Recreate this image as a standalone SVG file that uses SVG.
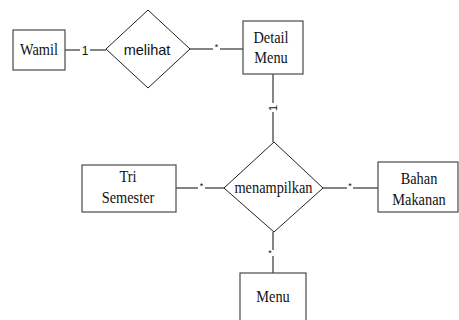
<svg xmlns="http://www.w3.org/2000/svg" width="459" height="320" viewBox="0 0 459 320">
  <style>
    .box { fill: #fff; stroke: #4a4a4a; stroke-width: 1.2; }
    .rel { fill: #fff; stroke: #222; stroke-width: 1; }
    .link { stroke: #333; stroke-width: 1.2; fill: none; }
    .lbl { fill: #111; text-anchor: middle; }
    .card { font-size: 9px; fill: #111; text-anchor: middle; }
  </style>
  <rect width="459" height="320" fill="#fff"/>

  <!-- connectors with cardinality labels -->
  <g id="connectors">
    <line class="link" x1="65" y1="50" x2="80" y2="50"/>
    <line class="link" x1="90" y1="50" x2="106" y2="50"/>
    <text class="lbl" font-family="Liberation Sans, sans-serif" x="85" y="54.5" font-size="12">1</text>

    <line class="link" x1="190" y1="49" x2="213" y2="49"/>
    <line class="link" x1="220" y1="49" x2="243" y2="49"/>
    <text class="card" font-family="Liberation Sans, sans-serif" x="216.5" y="50">*</text>

    <line class="link" x1="273" y1="74" x2="273" y2="103"/>
    <line class="link" x1="273" y1="112" x2="273" y2="142"/>
    <text class="lbl" font-family="Liberation Sans, sans-serif" font-size="11" transform="translate(277,108) rotate(-90)">1</text>

    <line class="link" x1="176" y1="188" x2="198" y2="188"/>
    <line class="link" x1="205" y1="188" x2="224" y2="188"/>
    <text class="card" font-family="Liberation Sans, sans-serif" x="201.5" y="189">*</text>

    <line class="link" x1="323" y1="188" x2="347" y2="188"/>
    <line class="link" x1="353" y1="188" x2="378" y2="188"/>
    <text class="card" font-family="Liberation Sans, sans-serif" x="350" y="189">*</text>

    <line class="link" x1="273" y1="232" x2="273" y2="250"/>
    <line class="link" x1="273" y1="256" x2="273" y2="273"/>
    <text class="card" font-family="Liberation Sans, sans-serif" x="270" y="256">*</text>
  </g>

  <g id="wamil">
    <rect class="box" x="13" y="30" width="52" height="40"/>
    <text class="lbl" font-family="Liberation Serif, serif" font-size="16.5" transform="translate(39,55) scale(0.87,1)">Wamil</text>
  </g>

  <g id="melihat">
    <polygon class="rel" points="148,10 190,49 148,88 106,49"/>
    <text class="lbl" font-family="Liberation Sans, sans-serif" x="147" y="55" font-size="14.5">melihat</text>
  </g>

  <g id="detail-menu">
    <rect class="box" x="243" y="21" width="60" height="53"/>
    <text class="lbl" font-family="Liberation Serif, serif" font-size="16.5" transform="translate(271,43) scale(0.87,1)">Detail</text>
    <text class="lbl" font-family="Liberation Serif, serif" font-size="16.5" transform="translate(271,63) scale(0.87,1)">Menu</text>
  </g>

  <g id="menampilkan">
    <polygon class="rel" points="274,142 323,188 274,232 224,188"/>
    <text class="lbl" font-family="Liberation Serif, serif" font-size="16.5" transform="translate(273.5,193) scale(0.87,1)">menampilkan</text>
  </g>

  <g id="tri-semester">
    <rect class="box" x="82" y="165" width="94" height="47"/>
    <text class="lbl" font-family="Liberation Serif, serif" font-size="16.5" transform="translate(128,182) scale(0.87,1)">Tri</text>
    <text class="lbl" font-family="Liberation Serif, serif" font-size="16.5" transform="translate(128,203) scale(0.87,1)">Semester</text>
  </g>

  <g id="bahan-makanan">
    <rect class="box" x="378" y="162" width="80" height="50"/>
    <text class="lbl" font-family="Liberation Serif, serif" font-size="16.5" transform="translate(419,184) scale(0.87,1)">Bahan</text>
    <text class="lbl" font-family="Liberation Serif, serif" font-size="16.5" transform="translate(419,205) scale(0.87,1)">Makanan</text>
  </g>

  <g id="menu">
    <rect class="box" x="240" y="273" width="66" height="52"/>
    <text class="lbl" font-family="Liberation Serif, serif" font-size="16.5" transform="translate(273,302) scale(0.87,1)">Menu</text>
  </g>
</svg>
